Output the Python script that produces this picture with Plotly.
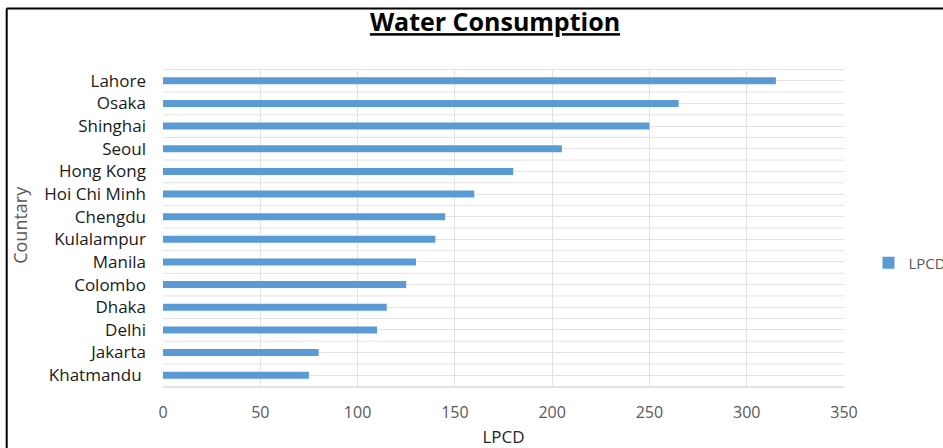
import plotly.graph_objects as go

# Per-capita daily water consumption (litres per capita per day) by city
cities = ["Lahore", "Osaka", "Shinghai", "Seoul", "Hong Kong", "Hoi Chi Minh",
          "Chengdu", "Kulalampur", "Manila", "Colombo", "Dhaka", "Delhi",
          "Jakarta", "Khatmandu "]
lpcd = [315, 265, 250, 205, 180, 160, 145, 140, 130, 125, 115, 110, 80, 75]
x_ticks = [0, 50, 100, 150, 200, 250, 300, 350]

BAR = "#5B9BD5"
GRID = "#E3E3E3"
FONT = "Open Sans"

fig = go.Figure(
    go.Bar(
        x=lpcd, y=cities, orientation="h", name="LPCD",
        marker=dict(color=BAR, line=dict(width=0)),
        showlegend=True,
    )
)

# extra horizontal gridlines on the category boundaries
shapes = []
for k in range(len(cities) + 1):
    shapes.append(dict(type="line", xref="paper", yref="y",
                       x0=0, x1=1, y0=k - 0.5, y1=k - 0.5,
                       line=dict(color=GRID, width=1), layer="below"))
# outer frame (left and top edges)
shapes.append(dict(type="line", xref="paper", yref="paper",
                   x0=-0.2295, x1=-0.2295, y0=-0.25, y1=1.19,
                   line=dict(color="black", width=2)))
shapes.append(dict(type="line", xref="paper", yref="paper",
                   x0=-0.2295, x1=1.2, y0=1.19, y1=1.19,
                   line=dict(color="black", width=2)))

fig.update_layout(
    width=943, height=448,
    margin=dict(l=163, r=99, t=69, b=61, autoexpand=False),
    paper_bgcolor="white", plot_bgcolor="white",
    font=dict(family=FONT, size=15, color="#404040"),
    bargap=0.69,
    title=dict(text="<b><u>Water Consumption</u></b>", x=0.4875, xref="paper",
               xanchor="center", y=0.95, yanchor="middle",
               font=dict(family=FONT, size=25, color="black")),
    xaxis=dict(range=[0, 350], tickvals=x_ticks, showgrid=True,
               gridcolor=GRID, gridwidth=1, zeroline=False,
               showline=True, linecolor=GRID, ticks="",
               ticklabelstandoff=11,
               tickfont=dict(size=16, color="#595959"),
               title=dict(text="LPCD", standoff=14,
                          font=dict(size=17, color="#262626"))),
    yaxis=dict(autorange="reversed", showgrid=True, gridcolor=GRID,
               gridwidth=1, showline=False, ticks="",
               ticklabelstandoff=16,
               tickfont=dict(size=17, color="#1a1a1a")),
    annotations=[dict(text="Countary", textangle=-90, xref="paper",
                      yref="paper", x=-0.21, y=0.51, xanchor="center",
                      yanchor="middle", showarrow=False,
                      font=dict(size=18, color="#595959"))],
    legend=dict(x=1.036, xanchor="left", y=0.39, yanchor="middle",
                bgcolor="rgba(0,0,0,0)", font=dict(size=15, color="#595959"),
                itemwidth=30),
    shapes=shapes,
)

fig.write_html("out.html")
